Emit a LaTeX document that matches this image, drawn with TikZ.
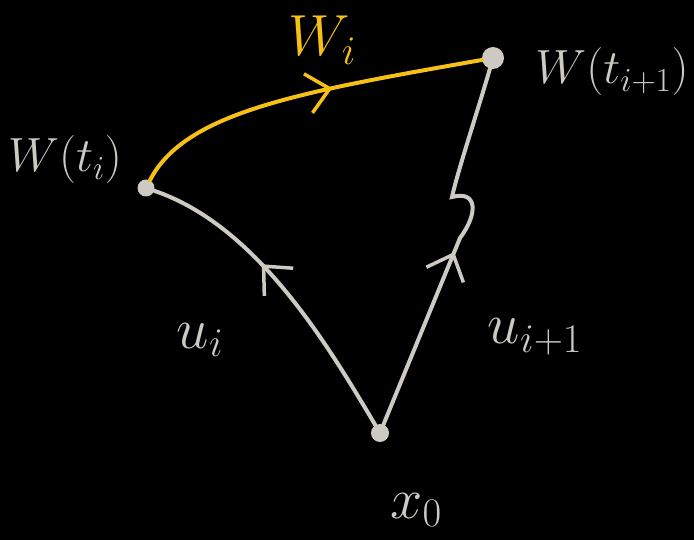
\documentclass[tikz,border=0pt]{standalone}
\usepackage{fix-cm}
\usetikzlibrary{arrows.meta,decorations.markings}
\definecolor{chalk}{RGB}{204,202,195}
\definecolor{gold}{RGB}{246,192,22}

\begin{document}
\begin{tikzpicture}[x=1pt,y=-1pt,
  every node/.style={text=chalk,font=\fontsize{48}{54}\selectfont},
  big/.style={font=\fontsize{58}{64}\selectfont},
  dot/.style={circle,fill=chalk,inner sep=0pt,minimum size=#1},
  dot/.default=17pt,
  gline/.style={draw=chalk,line width=4pt,line cap=round},
  yline/.style={draw=gold,line width=4pt,line cap=round},
  marr/.style={postaction={decorate,decoration={markings,
    mark=at position #1 with {\arrow{Straight Barb[length=22pt,width=40pt,line width=3.5pt]}}}}}
]
\fill[black] (0,0) rectangle (694,540);
\useasboundingbox (0,0) rectangle (694,540);

\node[dot] (wa) at (146,188) {};
\node[dot=22pt] (wb) at (493,58) {};
\node[dot=18pt] (x) at (380,433) {};

\node (la) at (65,160) {$W(t_i)$};
\node (lb) at (612,72) {$W(t_{i+1})$};
\node[big,text=gold] (lw) at (322,40) {$W_i$};
\node[big] (lu) at (200,340) {$u_i$};
\node[big] (lv) at (535,337) {$u_{i+1}$};
\node[big] (lx) at (416,510) {$x_0$};

\draw[yline,marr=0.58] (wa) .. controls (185,112) and (300,92) .. (wb);
\draw[gline,marr=0.6] (x) .. controls (325,340) and (255,225) .. (wa);
\draw[gline,marr=0.47] (x) -- (460,238) .. controls (478,214) and (478,190) .. (452,197)
  .. controls (458,170) and (478,110) .. (wb);
\end{tikzpicture}
\end{document}
